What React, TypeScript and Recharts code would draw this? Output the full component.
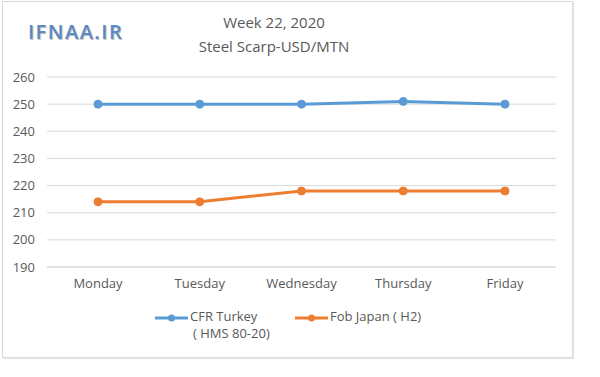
import { LineChart, Line, XAxis, YAxis, CartesianGrid, Legend } from 'recharts';

const days = ['Monday', 'Tuesday', 'Wednesday', 'Thursday', 'Friday'];
const cfrTurkey = [250, 250, 250, 251, 250];
const fobJapan = [214, 214, 218, 218, 218];
const yTicks = [190, 200, 210, 220, 230, 240, 250, 260];

const BLUE = '#5b9bd5';
const ORANGE = '#ed7d31';
const TEXT = '#595959';
const FONT = '"Open Sans", sans-serif';

const data = days.map((day, i) => ({
  day,
  cfr: cfrTurkey[i],
  fob: fobJapan[i],
}));

function LegendKey({ color }: { color: string }) {
  return (
    <svg width={33} height={10} style={{ display: 'block' }}>
      <line x1={0} y1={5} x2={33} y2={5} stroke={color} strokeWidth={3} />
      <circle cx={16.5} cy={5} r={3.5} fill={color} />
    </svg>
  );
}

function ChartLegend() {
  return (
    <div style={{ position: 'relative', width: 600, height: 40, fontFamily: FONT, fontSize: 13, color: TEXT }}>
      <div style={{ position: 'absolute', left: 155, top: 5 }}>
        <LegendKey color={BLUE} />
      </div>
      <div style={{ position: 'absolute', left: 190, top: 0, lineHeight: '17px' }}>
        CFR Turkey
        <br />
        <span style={{ marginLeft: 3 }}>( HMS 80-20)</span>
      </div>
      <div style={{ position: 'absolute', left: 295, top: 5 }}>
        <LegendKey color={ORANGE} />
      </div>
      <div style={{ position: 'absolute', left: 330, top: 0, lineHeight: '17px' }}>Fob Japan ( H2)</div>
    </div>
  );
}

export default function App() {
  return (
    <div style={{ position: 'absolute', left: 0, top: 0, width: 600, height: 377, background: '#fff', fontFamily: FONT }}>
      <div
        style={{
          position: 'absolute',
          left: 2,
          top: 1,
          width: 569,
          height: 355,
          border: '1px solid #d9d9d9',
          boxShadow: '1px 1px 1px #e6e6e6',
        }}
      />
      <div
        style={{
          position: 'absolute',
          left: 28,
          top: 18,
          fontSize: 20,
          fontWeight: 600,
          letterSpacing: 1.5,
          color: '#5a8ac6',
          textShadow: '1px 1px 1px #b8b8b8',
          lineHeight: '28px',
        }}
      >
        IFNAA.IR
      </div>
      <div
        style={{
          position: 'absolute',
          left: 174,
          top: 10,
          width: 200,
          textAlign: 'center',
          fontSize: 15,
          color: TEXT,
          lineHeight: '24px',
        }}
      >
        Week 22, 2020
        <br />
        Steel Scarp-USD/MTN
      </div>
      <div style={{ position: 'absolute', left: 0, top: 0 }}>
        <LineChart width={600} height={377} data={data} margin={{ top: 77, right: 44, left: 7, bottom: 50 }}>
          <CartesianGrid vertical={false} stroke="#d9d9d9" strokeWidth={1} />
          <XAxis
            dataKey="day"
            axisLine={{ stroke: '#d9d9d9' }}
            tickLine={false}
            tickSize={0}
            tickMargin={12}
            height={20}
            padding={{ left: 51, right: 51 }}
            tick={{ fill: TEXT, fontSize: 13, fontFamily: FONT }}
          />
          <YAxis
            domain={[190, 260]}
            ticks={yTicks}
            axisLine={false}
            tickLine={false}
            tickSize={0}
            tickMargin={12}
            width={40}
            tick={{ fill: TEXT, fontSize: 13, fontFamily: FONT }}
          />
          <Legend
            verticalAlign="bottom"
            wrapperStyle={{ top: 308, left: 0, width: 600, height: 40 }}
            content={() => <ChartLegend />}
          />
          <Line
            dataKey="cfr"
            name="CFR Turkey ( HMS 80-20)"
            stroke={BLUE}
            strokeWidth={3}
            dot={{ r: 4, fill: BLUE, stroke: BLUE, strokeWidth: 1 }}
            isAnimationActive={false}
          />
          <Line
            dataKey="fob"
            name="Fob Japan ( H2)"
            stroke={ORANGE}
            strokeWidth={3}
            dot={{ r: 4, fill: ORANGE, stroke: ORANGE, strokeWidth: 1 }}
            isAnimationActive={false}
          />
        </LineChart>
      </div>
    </div>
  );
}
